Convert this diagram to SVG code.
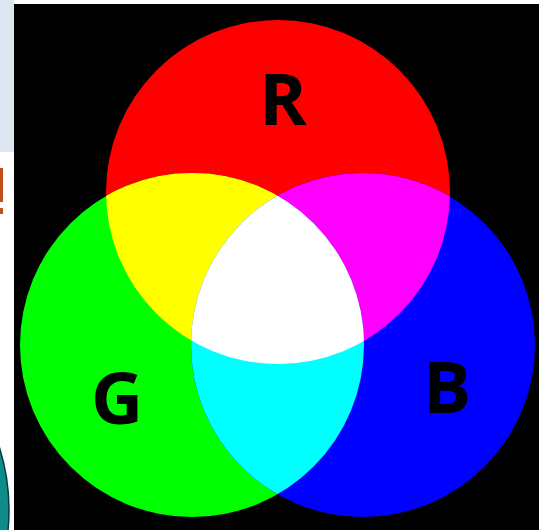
<svg xmlns="http://www.w3.org/2000/svg" width="539" height="530" viewBox="0 0 539 530">
<style>
.lbl{font-family:"Open Sans","Liberation Sans",sans-serif;font-weight:bold;font-size:72px;fill:#000;text-anchor:middle}
</style>
<defs>
<clipPath id="cR"><circle cx="278" cy="192" r="172"/></clipPath>
<clipPath id="cG"><circle cx="192" cy="345" r="172"/></clipPath>
<clipPath id="cB"><circle cx="363" cy="345" r="172"/></clipPath>
</defs>
<rect x="0" y="0" width="539" height="530" fill="#ffffff"/>
<rect x="0" y="0" width="14" height="152" fill="#dce7f2"/>
<rect x="0" y="168" width="3" height="34" fill="#c0501a"/>
<rect x="0" y="208" width="3" height="6" fill="#c0501a"/>
<circle cx="-200" cy="510" r="209" fill="#0e8b8b" stroke="#0a3a3a" stroke-width="1.5"/>
<rect x="14" y="4" width="525" height="526" fill="#000"/>
<g id="red"><circle cx="278" cy="192" r="172" fill="#ff0000"/></g>
<g id="green"><circle cx="192" cy="345" r="172" fill="#00ff00"/></g>
<g id="blue"><circle cx="363" cy="345" r="172" fill="#0000ff"/></g>
<g id="yellow" clip-path="url(#cR)"><circle cx="192" cy="345" r="172" fill="#ffff00"/></g>
<g id="magenta" clip-path="url(#cR)"><circle cx="363" cy="345" r="172" fill="#ff00ff"/></g>
<g id="cyan" clip-path="url(#cG)"><circle cx="363" cy="345" r="172" fill="#00ffff"/></g>
<g id="white" clip-path="url(#cR)"><g clip-path="url(#cG)"><circle cx="363" cy="345" r="172" fill="#ffffff"/></g></g>
<g id="labels">
<text class="lbl" x="283" y="125">R</text>
<text class="lbl" x="117" y="424">G</text>
<text class="lbl" x="447" y="413">B</text>
</g>
</svg>
